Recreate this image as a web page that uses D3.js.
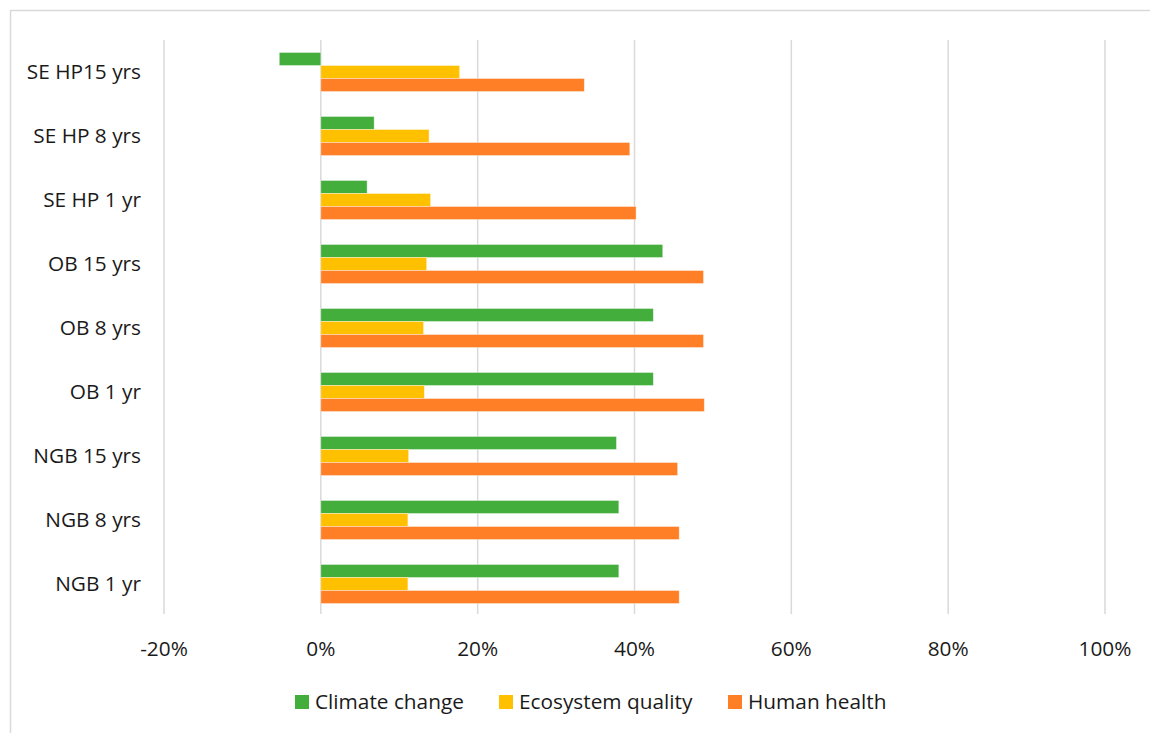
<!DOCTYPE html>
<html>
<head>
<meta charset="utf-8">
<script src="https://cdn.jsdelivr.net/npm/d3@7"></script>
<style>
  body { margin: 0; background: #fff; }
  svg text { font-family: "Open Sans", sans-serif; fill: #1a1a1a; }
</style>
</head>
<body>
<div id="chart"></div>
<script>
// Data (percent), top to bottom as drawn
const categories = [
  "SE HP15 yrs", "SE HP 8 yrs", "SE HP 1 yr",
  "OB 15 yrs", "OB 8 yrs", "OB 1 yr",
  "NGB 15 yrs", "NGB 8 yrs", "NGB 1 yr",
];
const seriesNames = ["Climate change", "Ecosystem quality", "Human health"];
const climateChange = [-5.3, 6.8, 5.9, 43.6, 42.4, 42.4, 37.7, 38.0, 38.0];
const ecosystemQuality = [17.7, 13.8, 14.0, 13.5, 13.1, 13.2, 11.2, 11.1, 11.1];
const humanHealth = [33.6, 39.4, 40.2, 48.8, 48.8, 48.9, 45.5, 45.7, 45.7];
const xTicks = [-20, 0, 20, 40, 60, 80, 100];

const seriesValues = [climateChange, ecosystemQuality, humanHealth];
const colors = ["#43ae3b", "#ffc000", "#ff7f27"];

const width = 1150;
const height = 733;
const fontSize = "20.8px";

const svg = d3
  .select("#chart")
  .append("svg")
  .attr("width", width)
  .attr("height", height);

// chart frame
svg
  .append("rect")
  .attr("x", 10.5)
  .attr("y", 10.5)
  .attr("width", width)
  .attr("height", height)
  .attr("fill", "none")
  .attr("stroke", "#d9d9d9")
  .attr("stroke-width", 1.5);

const x = d3.scaleLinear().domain([-20, 100]).range([164, 1105]);
const y = d3
  .scaleBand()
  .domain(categories)
  .range([40, 616])
  .paddingInner(0.39)
  .paddingOuter(0.195);
const ySub = d3
  .scaleBand()
  .domain(seriesNames)
  .range([0, y.bandwidth()]);

// gridlines
svg
  .append("g")
  .selectAll("line")
  .data(xTicks)
  .join("line")
  .attr("x1", (d) => x(d))
  .attr("x2", (d) => x(d))
  .attr("y1", 40)
  .attr("y2", 614)
  .attr("stroke", "#d9d9d9")
  .attr("stroke-width", 1.5);

// tick labels
svg
  .append("g")
  .selectAll("text")
  .data(xTicks)
  .join("text")
  .attr("x", (d) => x(d))
  .attr("y", 649)
  .attr("dy", "0.35em")
  .attr("text-anchor", "middle")
  .attr("font-size", fontSize)
  .text((d) => d + "%");

// category labels
svg
  .append("g")
  .selectAll("text")
  .data(categories)
  .join("text")
  .attr("x", 141)
  .attr("y", (d) => y(d) + y.bandwidth() / 2)
  .attr("dy", "0.35em")
  .attr("text-anchor", "end")
  .attr("font-size", fontSize)
  .text((d) => d);

// bars
seriesNames.forEach((name, si) => {
  svg
    .append("g")
    .selectAll("rect")
    .data(categories.map((c, i) => ({ cat: c, v: seriesValues[si][i] })))
    .join("rect")
    .attr("x", (d) => x(Math.min(0, d.v)))
    .attr("y", (d) => y(d.cat) + ySub(name))
    .attr("width", (d) => Math.abs(x(d.v) - x(0)))
    .attr("height", ySub.bandwidth())
    .attr("fill", colors[si])
    .attr("stroke", "#fff")
    .attr("stroke-opacity", 0.5)
    .attr("stroke-width", 0.75);
});

// legend
const legendItems = [
  { name: seriesNames[0], x: 295 },
  { name: seriesNames[1], x: 499 },
  { name: seriesNames[2], x: 728 },
];
const legend = svg
  .append("g")
  .selectAll("g")
  .data(legendItems)
  .join("g")
  .attr("transform", (d) => `translate(${d.x},695)`);

legend
  .append("rect")
  .attr("width", 14)
  .attr("height", 14)
  .attr("fill", (d, i) => colors[i]);

legend
  .append("text")
  .attr("x", 20)
  .attr("y", 7)
  .attr("dy", "0.35em")
  .attr("font-size", fontSize)
  .text((d) => d.name);
</script>
</body>
</html>
